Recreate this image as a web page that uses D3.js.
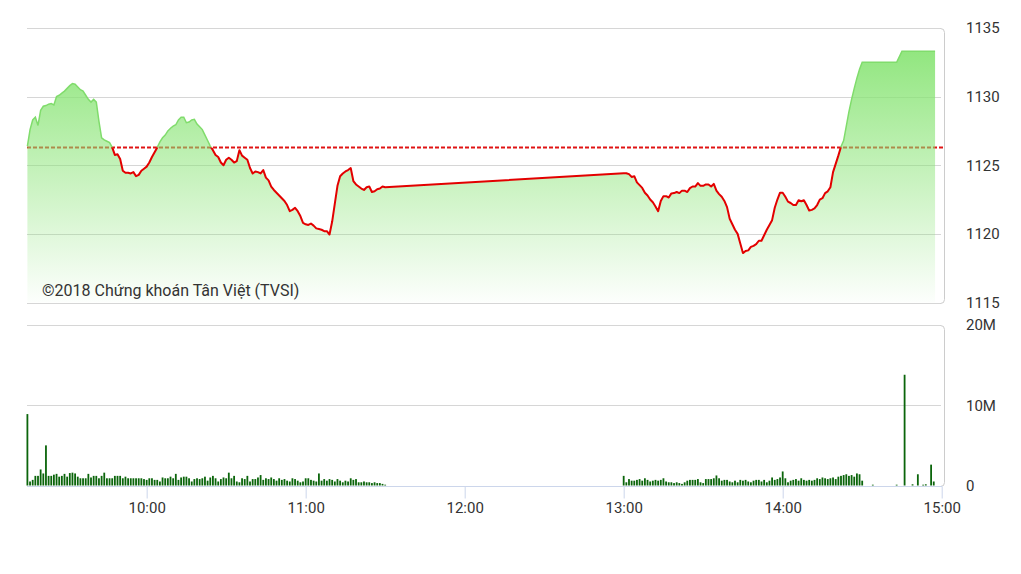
<!DOCTYPE html>
<html><head><meta charset="utf-8">
<script src="https://cdn.jsdelivr.net/npm/d3@7"></script>
<style>body{margin:0;background:#fff} text{font-family:Roboto,"Noto Sans",sans-serif}</style>
</head><body>
<svg id="c" width="1021" height="574"></svg>
<script>
const referenceLevel = 1126.3;
const priceTicks = [1115, 1120, 1125, 1130, 1135];
const volumeTicks = [0, 10, 20];
const volumeTickLabels = ["0", "10M", "20M"];
const timeTicks = ["10:00", "11:00", "12:00", "13:00", "14:00", "15:00"];
const copyrightText = "©2018 Chứng khoán Tân Việt (TVSI)";

const morningStart = "09:15";
const morningPrice = [
1126.4,1127.6,1128.3,1128.5,1127.9,1129.0,1129.3,1129.35,1129.45,1129.5,
1129.4,1130.0,1130.1,1130.25,1130.4,1130.6,1130.8,1130.95,1130.9,1130.7,
1130.5,1130.4,1130.1,1129.8,1129.6,1129.8,1129.6,1128.2,1127.0,1126.85,
1126.75,1126.65,1126.3,1125.75,1125.8,1125.45,1124.6,1124.45,1124.45,1124.4,
1124.5,1124.2,1124.3,1124.6,1124.75,1124.9,1125.2,1125.6,1125.95,1126.3,
1126.7,1127.0,1127.2,1127.5,1127.7,1127.85,1127.95,1128.3,1128.5,1128.5,
1128.1,1128.15,1128.3,1128.35,1128.0,1127.8,1127.6,1127.2,1126.8,1126.4,
1126.1,1125.75,1125.6,1125.2,1125.0,1125.4,1125.55,1125.4,1125.2,1125.3,
1126.1,1125.7,1125.55,1125.4,1124.8,1124.4,1124.55,1124.5,1124.4,1124.65,
1124.1,1123.9,1123.45,1123.2,1123.0,1122.8,1122.6,1122.4,1122.1,1121.65,
1121.75,1121.9,1121.65,1121.3,1120.8,1120.7,1120.65,1120.75,1120.6,1120.4,
1120.35,1120.3,1120.2,1120.2,1119.95,1120.9,1122.2,1123.5,1124.2,1124.4,
1124.55,1124.65,1124.8,1123.85,1123.6,1123.45,1123.3,1123.2,1123.4,1123.45,
1123.05,1123.1,1123.25,1123.3,1123.45,1123.4
];
const afternoonStart = "13:00";
const afternoonPrice = [
1124.42,1124.42,1124.35,1124.15,1124.2,1123.75,1123.55,1123.35,1123.0,1122.8,
1122.5,1122.3,1122.0,1121.65,1122.4,1122.75,1122.75,1122.65,1122.95,1122.97,
1123.05,1122.97,1123.15,1123.15,1123.05,1123.33,1123.45,1123.45,1123.7,1123.5,
1123.5,1123.6,1123.6,1123.45,1123.64,1123.15,1122.9,1122.7,1122.4,1121.95,
1121.1,1120.7,1120.3,1120.0,1119.3,1118.6,1118.75,1118.8,1119.05,1119.13,
1119.25,1119.5,1119.5,1119.9,1120.3,1120.65,1121.0,1121.9,1122.5,1123.0,
1123.0,1122.7,1122.35,1122.25,1122.1,1122.1,1122.45,1122.38,1122.45,1122.1,
1121.7,1121.75,1121.85,1122.1,1122.5,1122.6,1122.97,1123.1,1123.4,1124.5,
1125.1,1125.7,1126.35,1126.8,1127.85,1128.9,1129.8,1130.6,1131.35,1132.0,
1132.5
];
const closingTimes = ["14:43", "14:45", "14:57:30"];
const closingPrice = [1132.5, 1133.3, 1133.3];

const morningVolume = [
8.9,0.5,0.7,1.2,1.2,2.0,1.5,5.0,1.2,1.2,
1.35,1.45,1.1,1.2,1.45,1.1,1.55,1.6,1.5,1.1,
0.9,0.9,0.9,1.45,1.0,1.2,1.2,0.9,1.2,1.6,
0.9,0.9,0.9,1.2,1.2,1.2,0.9,1.1,0.9,0.9,
0.9,0.9,0.9,0.9,0.8,0.7,0.9,0.9,0.7,0.7,
0.5,1.0,0.9,0.9,1.1,0.9,1.45,0.7,1.0,1.1,
1.1,0.9,0.5,0.8,0.9,0.8,
0.9,1.1,0.6,1.0,1.2,0.9,0.5,0.8,1.0,0.9,
1.6,0.9,1.2,0.5,0.4,0.9,0.8,1.2,0.5,0.8,
0.8,1.0,1.3,0.7,0.9,0.8,1.0,0.8,0.6,0.9,
0.7,0.8,0.6,0.5,0.9,0.8,0.6,0.4,0.5,0.9,
0.9,0.7,0.6,0.5,1.5,0.6,0.8,0.6,0.8,0.7,
0.5,0.8,0.6,0.4,0.6,0.5,0.9,0.7,0.8,0.4,
0.4,0.5,0.4,0.4,0.3,0.4,0.3,0.3,0.2,0.1
];
const afternoonVolume = [
1.2,0.4,0.8,0.6,0.6,0.7,0.8,0.6,0.9,0.7,
0.5,0.6,0.7,0.6,0.7,0.9,0.5,0.4,0.4,0.3,
0.4,0.3,0.2,0.4,0.6,0.7,0.7,0.7,0.8,0.4,
0.3,0.8,0.8,0.8,0.9,1.25,0.9,0.6,0.7,0.7,
0.5,0.4,0.6,0.4,0.7,0.6,0.7,0.5,0.4,0.6,
0.7,0.7,0.5,0.7,0.4,0.6,1.0,0.7,0.8,1.0,
1.75,0.9,0.4,0.6,0.7,0.8,0.6,0.9,0.7,0.6,
0.7,0.6,0.7,0.9,0.8,1.0,0.9,0.8,0.9,1.0,
0.8,1.1,1.2,1.3,1.4,1.2,1.3,1.1,1.5,1.4,
0.6
];
const closingVolTimes = ["14:34","14:43","14:46","14:49","14:51","14:53","14:54","14:56","14:57"];
const closingVolume = [0.1,0.1,13.8,0.15,1.4,0.1,0.15,2.6,0.5];

function toMin(s){ const p = s.split(":").map(Number); return p[0]*60 + p[1] + (p[2]||0)/60; }

const priceData = [
  ...morningPrice.map((v,i)=>({t: toMin(morningStart)+i, v})),
  ...afternoonPrice.map((v,i)=>({t: toMin(afternoonStart)+i, v})),
  ...closingPrice.map((v,i)=>({t: toMin(closingTimes[i]), v}))
];
const volData = [
  ...morningVolume.map((v,i)=>({t: toMin(morningStart)+i, v})),
  ...afternoonVolume.map((v,i)=>({t: toMin(afternoonStart)+i, v})),
  ...closingVolume.map((v,i)=>({t: toMin(closingVolTimes[i]), v}))
];

const svg = d3.select("#c");
const left = 27, right = 944;
const x = d3.scaleLinear().domain([toMin("09:15"), toMin("15:00")]).range([27.4, 941.7]);
const y = d3.scaleLinear().domain([1115, 1135]).range([302.5, 28]);
const yv = d3.scaleLinear().domain([0, 20]).range([485.5, 325]);

const defs = svg.append("defs");
const grad = defs.append("linearGradient").attr("id","ag").attr("gradientUnits","userSpaceOnUse")
  .attr("x1",0).attr("y1",y(1135)).attr("x2",0).attr("y2",y(1115));
grad.append("stop").attr("offset","0%").attr("stop-color","#88e474").attr("stop-opacity",1);
grad.append("stop").attr("offset","100%").attr("stop-color","#88e474").attr("stop-opacity",0.02);
const yRef = y(referenceLevel);
defs.append("clipPath").attr("id","above").append("rect").attr("x",0).attr("y",0).attr("width",1021).attr("height",yRef);
defs.append("clipPath").attr("id","below").append("rect").attr("x",0).attr("y",yRef).attr("width",1021).attr("height",574-yRef);

// upper gridlines
svg.append("g").selectAll("line").data(priceTicks).join("line")
  .attr("x1", left).attr("x2", right-3).attr("y1", d=>Math.round(y(d))+0.5).attr("y2", d=>Math.round(y(d))+0.5)
  .attr("stroke","#d6d6d6").attr("stroke-width",1);
{
  const t = Math.round(y(1135))+0.5, b = Math.round(y(1115))+0.5, r = right+0.5;
  svg.append("path").attr("d",`M${r-4},${t} Q${r},${t} ${r},${t+4} L${r},${b-4} Q${r},${b} ${r-4},${b}`)
    .attr("fill","none").attr("stroke","#cccccc");
}
// reference dashed line
svg.append("line").attr("x1",left).attr("x2",right).attr("y1",yRef).attr("y2",yRef)
  .attr("stroke","#e01414").attr("stroke-width",2).attr("stroke-dasharray","4,2");

// area
const area = d3.area().x(d=>x(d.t)).y0(y(1115)).y1(d=>y(d.v));
svg.append("path").datum(priceData).attr("d",area).attr("fill","url(#ag)");

const line = d3.line().x(d=>x(d.t)).y(d=>y(d.v));
svg.append("path").datum(priceData).attr("d",line).attr("fill","none")
  .attr("stroke","#80dc6c").attr("stroke-width",1.5).attr("clip-path","url(#above)");
svg.append("path").datum(priceData).attr("d",line).attr("fill","none")
  .attr("stroke","#e30000").attr("stroke-width",2).attr("stroke-linejoin","round").attr("clip-path","url(#below)");

// copyright
svg.append("text").attr("x",42).attr("y",296).attr("font-size",16).attr("fill","#333").text(copyrightText);

// price labels
svg.append("g").selectAll("text").data(priceTicks).join("text")
  .attr("x",966).attr("y",d=>y(d)).attr("dy","0.35em").attr("font-size",15).attr("fill","#333").text(d=>d);

// lower panel gridlines
svg.append("g").selectAll("line").data(volumeTicks.filter(d=>d>0)).join("line")
  .attr("x1",left).attr("x2",right-3).attr("y1",d=>Math.round(yv(d))+0.5).attr("y2",d=>Math.round(yv(d))+0.5)
  .attr("stroke","#d6d6d6");
{
  const t = Math.round(yv(20))+0.5, b = Math.round(yv(0))+0.5, r = right+0.5;
  svg.append("path").attr("d",`M${r-4},${t} Q${r},${t} ${r},${t+4} L${r},${b-4} Q${r},${b} ${r-4},${b}`)
    .attr("fill","none").attr("stroke","#cccccc");
}
// x axis
const xAxis = d3.axisBottom(x).tickValues(timeTicks.map(toMin)).tickSize(12).tickPadding(4)
  .tickFormat((d,i)=>timeTicks[i]);
const gx = svg.append("g").attr("transform",`translate(0,${Math.round(yv(0))+0.5})`).call(xAxis);
gx.select(".domain").attr("d",`M${left},0H${right-2}`).attr("stroke","#ccd6eb");
gx.selectAll(".tick line").attr("stroke","#ccd6eb");
gx.selectAll(".tick text").attr("font-size",15).attr("fill","#333").attr("font-family","Roboto");

// volume bars
svg.append("g").selectAll("rect").data(volData).join("rect")
  .attr("x",d=>x(d.t)-0.9).attr("width",1.8)
  .attr("y",d=>yv(d.v)).attr("height",d=>yv(0)-yv(d.v))
  .attr("fill","#0b650b");

// volume labels
svg.append("g").selectAll("text").data(volumeTicks).join("text")
  .attr("x",966).attr("y",d=>yv(d)).attr("dy","0.35em").attr("font-size",15).attr("fill","#333")
  .text((d,i)=>volumeTickLabels[i]);
</script>
</body></html>
